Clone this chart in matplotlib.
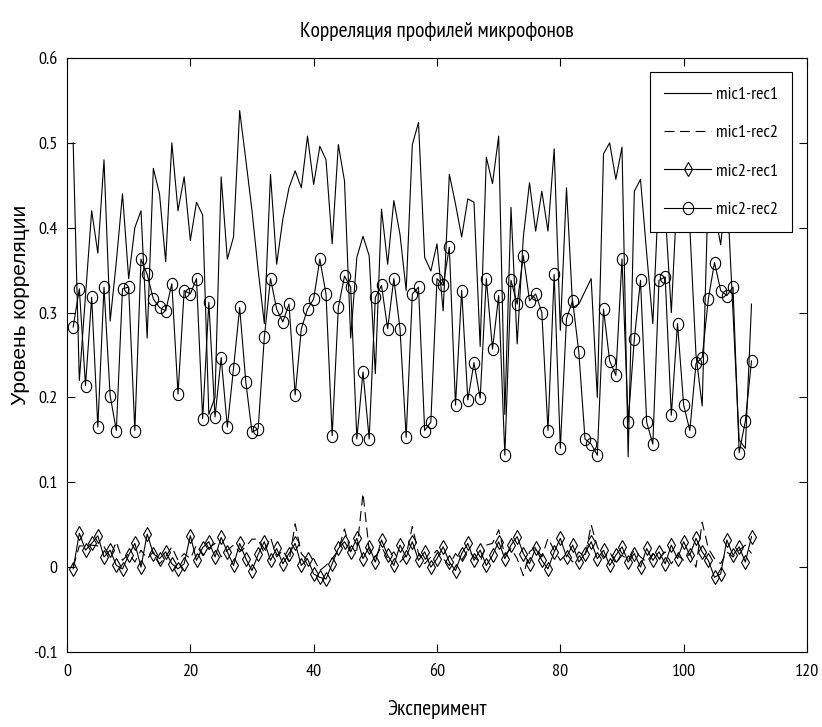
import numpy as np
import matplotlib
matplotlib.use("Agg")
import matplotlib.pyplot as plt
from matplotlib.path import Path
from matplotlib import ticker, font_manager

_available = {f.name for f in font_manager.fontManager.ttflist}
_narrow = next((n for n in ['Liberation Sans Narrow', 'Arial Narrow', 'PT Sans Narrow',
                            'Roboto Condensed', 'Open Sans Condensed', 'Archivo Narrow']
                if n in _available), 'DejaVu Sans')
plt.rcParams['font.family'] = [_narrow, 'DejaVu Sans']
if _narrow == 'DejaVu Sans':
    plt.rcParams['font.stretch'] = 'condensed'

# ---------------- data ----------------
mic1_rec1 = [
    0.50, 0.22, 0.32, 0.42, 0.37, 0.48, 0.29, 0.36, 0.44, 0.34,
    0.40, 0.42, 0.27, 0.47, 0.44, 0.36, 0.50, 0.42, 0.46, 0.385,
    0.43, 0.415, 0.18, 0.20, 0.46, 0.363, 0.389, 0.538, 0.48, 0.42,
    0.35, 0.287, 0.463, 0.357, 0.41, 0.447, 0.467, 0.447, 0.508, 0.451,
    0.496, 0.48, 0.381, 0.498, 0.455, 0.27, 0.365, 0.39, 0.367, 0.228,
    0.422, 0.357, 0.432, 0.392, 0.326, 0.498, 0.524, 0.365, 0.349, 0.381,
    0.302, 0.463, 0.428, 0.389, 0.434, 0.430, 0.26, 0.483, 0.452, 0.508,
    0.18, 0.424, 0.263, 0.389, 0.453, 0.396, 0.443, 0.396, 0.493, 0.279,
    0.447, 0.306, 0.31, 0.325, 0.34, 0.20, 0.487, 0.50, 0.457, 0.495,
    0.13, 0.443, 0.457, 0.37, 0.287, 0.45, 0.42, 0.30, 0.45, 0.48,
    0.40, 0.25, 0.19, 0.45, 0.42, 0.38, 0.45, 0.30, 0.15, 0.14, 0.31,
]

mic1_rec2 = [
    0.000, 0.025, 0.025, 0.026, 0.025, 0.024, 0.012, 0.030, 0.008, 0.016,
    0.006, 0.020, 0.010, 0.018, 0.004, 0.012, 0.024, 0.008, 0.016, 0.010,
    0.026, 0.014, 0.022, 0.028, 0.012, 0.020, 0.026, 0.018, 0.024, 0.033,
    0.033, 0.016, 0.035, 0.012, 0.020, 0.006, 0.051, 0.016, 0.008, 0.010,
    -0.004, 0.002, 0.010, 0.020, 0.045, 0.018, 0.020, 0.087, 0.020, 0.012,
    0.024, 0.010, 0.018, 0.006, 0.014, 0.048, 0.016, 0.004, 0.012, 0.020,
    0.010, 0.002, 0.016, 0.008, 0.020, 0.012, 0.006, 0.026, 0.028, 0.044,
    0.014, 0.022, 0.010, -0.010, 0.018, 0.024, 0.012, 0.034, 0.020, 0.008,
    0.016, 0.006, 0.018, 0.012, 0.050, 0.024, 0.010, 0.018, 0.004, 0.014,
    0.008, 0.020, 0.012, 0.006, 0.016, 0.010, 0.018, 0.004, 0.014, 0.008,
    0.016, 0.000, 0.053, 0.022, 0.010, 0.004, 0.018, 0.012, 0.020, 0.026, 0.016,
]

mic2_rec1 = [
    -0.002, 0.040, 0.020, 0.028, 0.037, 0.012, 0.020, 0.002, -0.002, 0.014,
    0.028, 0.000, 0.039, 0.016, 0.010, 0.018, 0.004, -0.002, 0.004, 0.037,
    0.008, 0.023, 0.030, 0.012, 0.035, 0.018, 0.002, 0.028, 0.010, -0.004,
    0.015, 0.030, 0.008, 0.022, 0.004, 0.016, 0.028, 0.002, 0.010, -0.008,
    -0.012, -0.014, 0.004, 0.022, 0.030, 0.018, 0.034, 0.010, 0.024, 0.006,
    0.032, 0.014, 0.002, 0.026, 0.012, 0.030, 0.008, 0.018, 0.000, 0.010,
    0.024, 0.006, -0.004, 0.016, 0.028, 0.008, 0.020, 0.002, 0.014, 0.030,
    0.010, 0.026, 0.036, 0.016, 0.004, 0.022, 0.008, -0.002, 0.018, 0.034,
    0.012, 0.026, 0.006, 0.016, 0.030, 0.010, 0.020, 0.002, 0.014, 0.024,
    0.006, 0.016, 0.000, 0.022, 0.008, 0.018, 0.004, 0.026, 0.010, 0.030,
    0.014, 0.034, 0.018, 0.008, -0.012, -0.008, 0.032, 0.014, 0.024, 0.006, 0.036,
]

mic2_rec2 = [
    0.283, 0.328, 0.214, 0.318, 0.165, 0.33, 0.202, 0.161, 0.328, 0.33,
    0.161, 0.363, 0.345, 0.316, 0.306, 0.302, 0.334, 0.204, 0.326, 0.322,
    0.34, 0.175, 0.312, 0.177, 0.247, 0.165, 0.234, 0.306, 0.218, 0.159,
    0.163, 0.271, 0.34, 0.304, 0.289, 0.31, 0.203, 0.281, 0.304, 0.316,
    0.363, 0.322, 0.155, 0.306, 0.343, 0.33, 0.151, 0.23, 0.151, 0.318,
    0.332, 0.281, 0.34, 0.281, 0.153, 0.322, 0.33, 0.161, 0.171, 0.34,
    0.332, 0.377, 0.191, 0.326, 0.197, 0.241, 0.199, 0.34, 0.257, 0.32,
    0.132, 0.338, 0.31, 0.367, 0.314, 0.322, 0.30, 0.161, 0.345, 0.14,
    0.293, 0.314, 0.253, 0.151, 0.145, 0.132, 0.304, 0.243, 0.226, 0.363,
    0.171, 0.269, 0.338, 0.171, 0.145, 0.338, 0.342, 0.179, 0.287, 0.191,
    0.161, 0.24, 0.247, 0.316, 0.359, 0.326, 0.32, 0.33, 0.135, 0.172, 0.243,
]

series_labels = ["mic1-rec1", "mic1-rec2", "mic2-rec1", "mic2-rec2"]
x_ticks = [0, 20, 40, 60, 80, 100, 120]
y_ticks = [-0.1, 0, 0.1, 0.2, 0.3, 0.4, 0.5, 0.6]

title = "Корреляция профилей микрофонов"
xlabel = "Эксперимент"
ylabel = "Уровень корреляции"

# ---------------- figure ----------------
fig = plt.figure(figsize=(8.22, 7.27), dpi=100)
ax = fig.add_axes([67 / 822, 1 - 652 / 727, 740 / 822, 594 / 727])

x = np.arange(1, len(mic1_rec1) + 1)

t = np.linspace(0, 2 * np.pi, 41)
ellipse = Path(np.column_stack([0.85 * np.cos(t), np.sin(t)]), closed=True)

lw = 0.8
ax.plot(x, mic1_rec1, '-', color='black', lw=lw, label=series_labels[0])
ax.plot(x, mic1_rec2, linestyle=(0, (9, 5)), color='black', lw=lw, label=series_labels[1])
ax.plot(x, mic2_rec1, '-', color='black', lw=lw, marker='d', markersize=7.5,
        markerfacecolor='none', markeredgecolor='black', markeredgewidth=0.8,
        label=series_labels[2])
ax.plot(x, mic2_rec2, '-', color='black', lw=lw, marker=ellipse, markersize=8.8,
        markerfacecolor='none', markeredgecolor='black', markeredgewidth=0.8,
        label=series_labels[3])

ax.set_xlim(0, 120)
ax.set_ylim(-0.1, 0.6)
ax.set_xticks(x_ticks)
ax.set_yticks(y_ticks)
ax.xaxis.set_major_formatter(ticker.FuncFormatter(lambda v, p: f"{round(v, 3):g}"))
ax.yaxis.set_major_formatter(ticker.FuncFormatter(lambda v, p: f"{round(v, 3):g}"))
ax.tick_params(direction='in', top=True, right=True, length=6, width=0.8,
               labelsize=13, colors='black')
ax.tick_params(axis='x', pad=9)
ax.tick_params(axis='y', pad=7)
for s in ax.spines.values():
    s.set_linewidth(0.8)
    s.set_color('black')

ax.set_title(title, fontsize=15.5, pad=15)
ax.set_xlabel(xlabel, fontsize=15.5, labelpad=14)
fig.text(20 / 822, 1 - 305 / 727, ylabel, rotation=90, ha='center', va='center',
         fontsize=15, family=['Liberation Sans', 'DejaVu Sans'])

leg = ax.legend(loc='upper right', bbox_to_anchor=(792 / 822, 1 - 72 / 727),
                bbox_transform=fig.transFigure, fontsize=13, frameon=True,
                fancybox=False, edgecolor='black', framealpha=1,
                handlelength=2.6, handletextpad=0.25, labelspacing=1.2,
                borderpad=0.8, borderaxespad=0)
leg.get_frame().set_linewidth(0.8)

fig.savefig("out.png", dpi=100, facecolor='white')
